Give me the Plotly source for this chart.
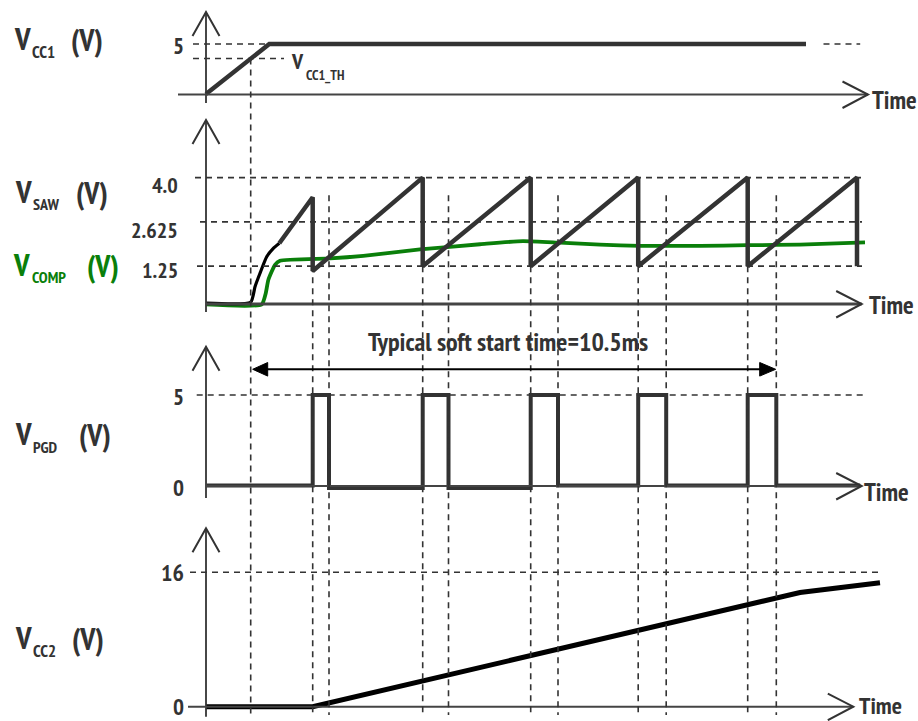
import plotly.graph_objects as go

W, H = 918, 721

# ------------------------------------------------------------------
# DATA  (time in ms, t = 0 at V_CC1 reaching V_CC1_TH; voltages in V)
# ------------------------------------------------------------------
t_yaxis = -0.894                      # time where the vertical axes stand

vcc1_t = [-0.894, 0.372, 11.106]
vcc1_v = [0.0, 5.0, 5.0]
vcc1_tail_end = 12.19                 # dashed continuation of V_CC1
vcc1_th = 3.55

saw_start_t = [-0.894, 0.0, 0.086, 0.186, 0.32, 0.452, 0.572]
saw_start_v = [0.10, 0.13, 0.61, 1.03, 1.54, 1.80, 1.96]
saw_reset_t = [1.24, 3.44, 5.60, 7.75, 9.94, 12.126]
saw_peak_v = [3.39, 4.0, 4.0, 4.0, 4.0, 4.0]
saw_valley_v = [1.10, 1.25, 1.25, 1.25, 1.25, 1.25]

comp_t = [-0.894, 0.22, 0.30, 0.352, 0.486, 0.586, 1.586, 2.252, 3.386, 4.586,
          5.446, 6.186, 6.986, 7.786, 8.986, 9.926, 10.986, 12.286]
comp_v = [0.06, 0.06, 0.40, 0.82, 1.29, 1.42, 1.49, 1.57, 1.77, 1.93,
          2.03, 1.98, 1.92, 1.88, 1.88, 1.90, 1.92, 1.99]

pgd_rise_t = [1.24, 3.44, 5.60, 7.75, 9.94]
pgd_fall_t = [1.566, 3.956, 6.146, 8.31, 10.512]
pgd_high = 5.0
pgd_low = [0.0, -0.14, -0.14, 0.0, 0.0, 0.0]
pgd_t_start, pgd_t_end = -0.88, 12.19

vcc2_t = [-0.894, 1.24, 10.986, 12.586]
vcc2_v = [0.0, 0.0, 13.6, 14.76]

soft_start_t = [0.0, 10.5]
soft_start_text = "Typical soft start time=10.5ms"

saw_ticks = [4.0, 2.625, 1.25]
saw_tick_text = ["4.0", "2.625", "1.25"]
cross_top_v = 3.45

# ------------------------------------------------------------------
# geometry of the drawing (pixel layout of the schematic panels)
# ------------------------------------------------------------------
X0_PX, PX_PER_MS = 250.7, 50.0
PANELS = {
    "y":  ((0.0, 94.0), (5.0, 44.0)),
    "y2": ((0.0, 306.4), (4.0, 177.6)),
    "y3": ((0.0, 485.5), (5.0, 395.0)),
    "y4": ((0.0, 706.7), (16.0, 572.3)),
}


def t_of(px):
    return (px - X0_PX) / PX_PER_MS


def px_of(t):
    return X0_PX + PX_PER_MS * t


def val_at(ax, py):
    (va, pa), (vb, pb) = PANELS[ax]
    return va + (py - pa) * (vb - va) / (pb - pa)


def py_of(ax, v):
    (va, pa), (vb, pb) = PANELS[ax]
    return pa + (v - va) * (pb - pa) / (vb - va)


def fx(px):
    return px / W


def fy(py):
    return 1 - py / H


DARK = "#333333"
GREEN = "#0a7f0a"
FONT = "PT Sans Narrow, Fira Sans Extra Condensed, Roboto Condensed, DejaVu Sans Condensed, sans-serif"
DASH = "6px,5px"

fig = go.Figure()

fig.add_trace(go.Scatter(x=vcc1_t, y=vcc1_v, mode="lines", yaxis="y",
                         line=dict(color=DARK, width=4.5)))
fig.add_trace(go.Scatter(x=comp_t, y=comp_v, mode="lines", yaxis="y2",
                         line=dict(color=GREEN, width=3.8, shape="spline", smoothing=0.5)))
fig.add_trace(go.Scatter(x=saw_start_t, y=saw_start_v, mode="lines", yaxis="y2",
                         line=dict(color="#000000", width=3.2, shape="spline", smoothing=0.5)))

saw_t = [saw_start_t[-1]]
saw_v = [saw_start_v[-1]]
for t, pk, vl in zip(saw_reset_t, saw_peak_v, saw_valley_v):
    saw_t += [t, t]
    saw_v += [pk, vl]
fig.add_trace(go.Scatter(x=saw_t, y=saw_v, mode="lines", yaxis="y2",
                         line=dict(color=DARK, width=4.5)))

pgd_t = [pgd_t_start]
pgd_v = [pgd_low[0]]
for i, (r, f) in enumerate(zip(pgd_rise_t, pgd_fall_t)):
    pgd_t += [r, r, f, f]
    pgd_v += [pgd_low[i], pgd_high, pgd_high, pgd_low[i + 1]]
pgd_t.append(pgd_t_end)
pgd_v.append(pgd_low[-1])
fig.add_trace(go.Scatter(x=pgd_t, y=pgd_v, mode="lines", yaxis="y3",
                         line=dict(color=DARK, width=4)))
fig.add_trace(go.Scatter(x=vcc2_t, y=vcc2_v, mode="lines", yaxis="y4",
                         line=dict(color="#000000", width=5)))

# ---------------- shapes ----------------
shapes = []


def seg(x0, y0, x1, y1, xref="paper", yref="paper", color=DARK, width=2, dash=None):
    d = dict(type="line", x0=x0, y0=y0, x1=x1, y1=y1, xref=xref, yref=yref,
             line=dict(color=color, width=width))
    if dash:
        d["line"]["dash"] = dash
    shapes.append(d)


def chevron(pts, width=2):
    path = "M " + " L ".join(f"{fx(x)},{fy(y)}" for x, y in pts)
    shapes.append(dict(type="path", path=path, xref="paper", yref="paper",
                       line=dict(color=DARK, width=width)))


ax_px = px_of(t_yaxis)
axes_def = [
    (12, 103, 94.5, 178, 868, 2),
    (120, 312, 304, 206, 861.7, 3),
    (346.7, 498, 486, 206, 861.7, 2),
    (528.3, 716.7, 706.7, 188, 853.3, 2),
]
for vt, vb, hy, hx0, hx1, hw in axes_def:
    seg(fx(ax_px), fy(vt), fx(ax_px), fy(vb), width=1.8)
    chevron([(ax_px - 13.5, vt + 24), (ax_px, vt), (ax_px + 13.5, vt + 24)])
    seg(fx(hx0), fy(hy), fx(hx1), fy(hy), width=hw, color="#444444")
    chevron([(hx1 - 25.5, hy - 13), (hx1, hy), (hx1 - 25.5, hy + 13.5)])

seg(fx(193), 5.0, fx(269), 5.0, yref="y", dash=DASH, width=1.6)
seg(fx(193), vcc1_th, fx(284), vcc1_th, yref="y", dash=DASH, width=1.6)
seg(vcc1_t[-1] + 0.35, 5.0, vcc1_tail_end, 5.0, xref="x", yref="y", dash=DASH, width=1.6)
for v, x0 in zip(saw_ticks, [195, 200, 197]):
    seg(fx(x0), v, fx(862), v, yref="y2", dash=DASH, width=1.6)
seg(fx(196.7), pgd_high, fx(864), pgd_high, yref="y3", dash=DASH, width=1.6)
seg(fx(190), 16.0, fx(881), 16.0, yref="y4", dash=DASH, width=1.6)

BOTTOM = 715
seg(0.0, fy(py_of("y", vcc1_th)), 0.0, fy(BOTTOM), xref="x", dash=DASH, width=1.6)
for r in pgd_rise_t:
    seg(r, fy(py_of("y2", 1.25)), r, fy(BOTTOM), xref="x", dash=DASH, width=1.6)
for f in pgd_fall_t:
    seg(f, fy(py_of("y2", cross_top_v)), f, fy(BOTTOM), xref="x", dash=DASH, width=1.6)

ARROW_Y = 369.3
a0, a1 = px_of(soft_start_t[0]) + 2, px_of(soft_start_t[1])
seg(fx(a0 + 8), fy(ARROW_Y), fx(a1 - 8), fy(ARROW_Y), color="#000000", width=2)
for tip, back in [(a0, a0 + 15), (a1, a1 - 16)]:
    path = (f"M {fx(tip)},{fy(ARROW_Y)} L {fx(back)},{fy(ARROW_Y - 6.8)} "
            f"L {fx(back)},{fy(ARROW_Y + 6.8)} Z")
    shapes.append(dict(type="path", path=path, xref="paper", yref="paper",
                       fillcolor="#000000", line=dict(color="#000000", width=1)))

# ---------------- annotations ----------------
ann = []


def text(s, x, y, size, xanchor="left", color=DARK):
    ann.append(dict(text=s, x=x, y=y, xref="paper", yref="paper", showarrow=False,
                    xanchor=xanchor, yanchor="middle", borderpad=0,
                    font=dict(family=FONT, size=size, color=color, weight="bold")))


def label(sub, y, xs, color=DARK, sub_size=17):
    xv, xsub, xu = xs
    text("V", fx(xv - 1), fy(y), 31, color=color)
    text(sub, fx(xsub - 1), fy(y + 13), sub_size, color=color)
    text("(V)", fx(xu - 2), fy(y + 1), 30, color=color)


label("CC1", 39, (14, 32, 72))
label("SAW", 191, (15, 33, 77), sub_size=16)
label("COMP", 264, (13, 32, 88), color=GREEN, sub_size=16)
label("PGD", 434, (15, 33, 80), sub_size=16)
label("CC2", 637.5, (15, 33, 73))

text("V", fx(290), fy(61), 22)
text("CC1_TH", fx(304.5), fy(75), 14)


def tick(s, v, yref, right, shift, size=23):
    ann.append(dict(text=s, x=fx(right), y=v, xref="paper", yref=yref, showarrow=False,
                    xanchor="right", yanchor="middle", yshift=shift, borderpad=0,
                    font=dict(family=FONT, size=size, color=DARK, weight="bold")))


tick("5", 5.0, "y", 185, -1)
for v, s, sh in zip(saw_ticks, saw_tick_text, [-7, -8, -4]):
    tick(s, v, "y2", 179, sh, size=22)
tick("5", pgd_high, "y3", 185, -1)
tick("0", 0.0, "y3", 185, -1.5)
tick("16", 16.0, "y4", 185, 0, size=24)
tick("0", 0.0, "y4", 185, 0, size=23)

for cx, cy, sz in [(894, 100, 25), (891.5, 305, 25), (886.5, 492, 25), (880.5, 705, 24)]:
    text("Time", fx(cx), fy(cy), sz, xanchor="center")

text(soft_start_text, fx(508), fy(341.7), 26, xanchor="center")

# ---------------- layout ----------------
layout = dict(
    width=W, height=H, autosize=False,
    margin=dict(l=0, r=0, t=0, b=0, pad=0),
    paper_bgcolor="white", plot_bgcolor="white",
    showlegend=False,
    xaxis=dict(range=[t_of(0), t_of(W)], domain=[0, 1], visible=False, fixedrange=True),
    shapes=shapes, annotations=ann,
)
for ax in ["y", "y2", "y3", "y4"]:
    key = "yaxis" if ax == "y" else "yaxis" + ax[1:]
    d = dict(range=[val_at(ax, H), val_at(ax, 0)], domain=[0, 1], visible=False,
             fixedrange=True)
    if ax != "y":
        d["overlaying"] = "y"
    layout[key] = d
fig.update_layout(**layout)

fig.write_html("out.html", config={"staticPlot": True},
               post_script="document.body.style.margin='0';")
